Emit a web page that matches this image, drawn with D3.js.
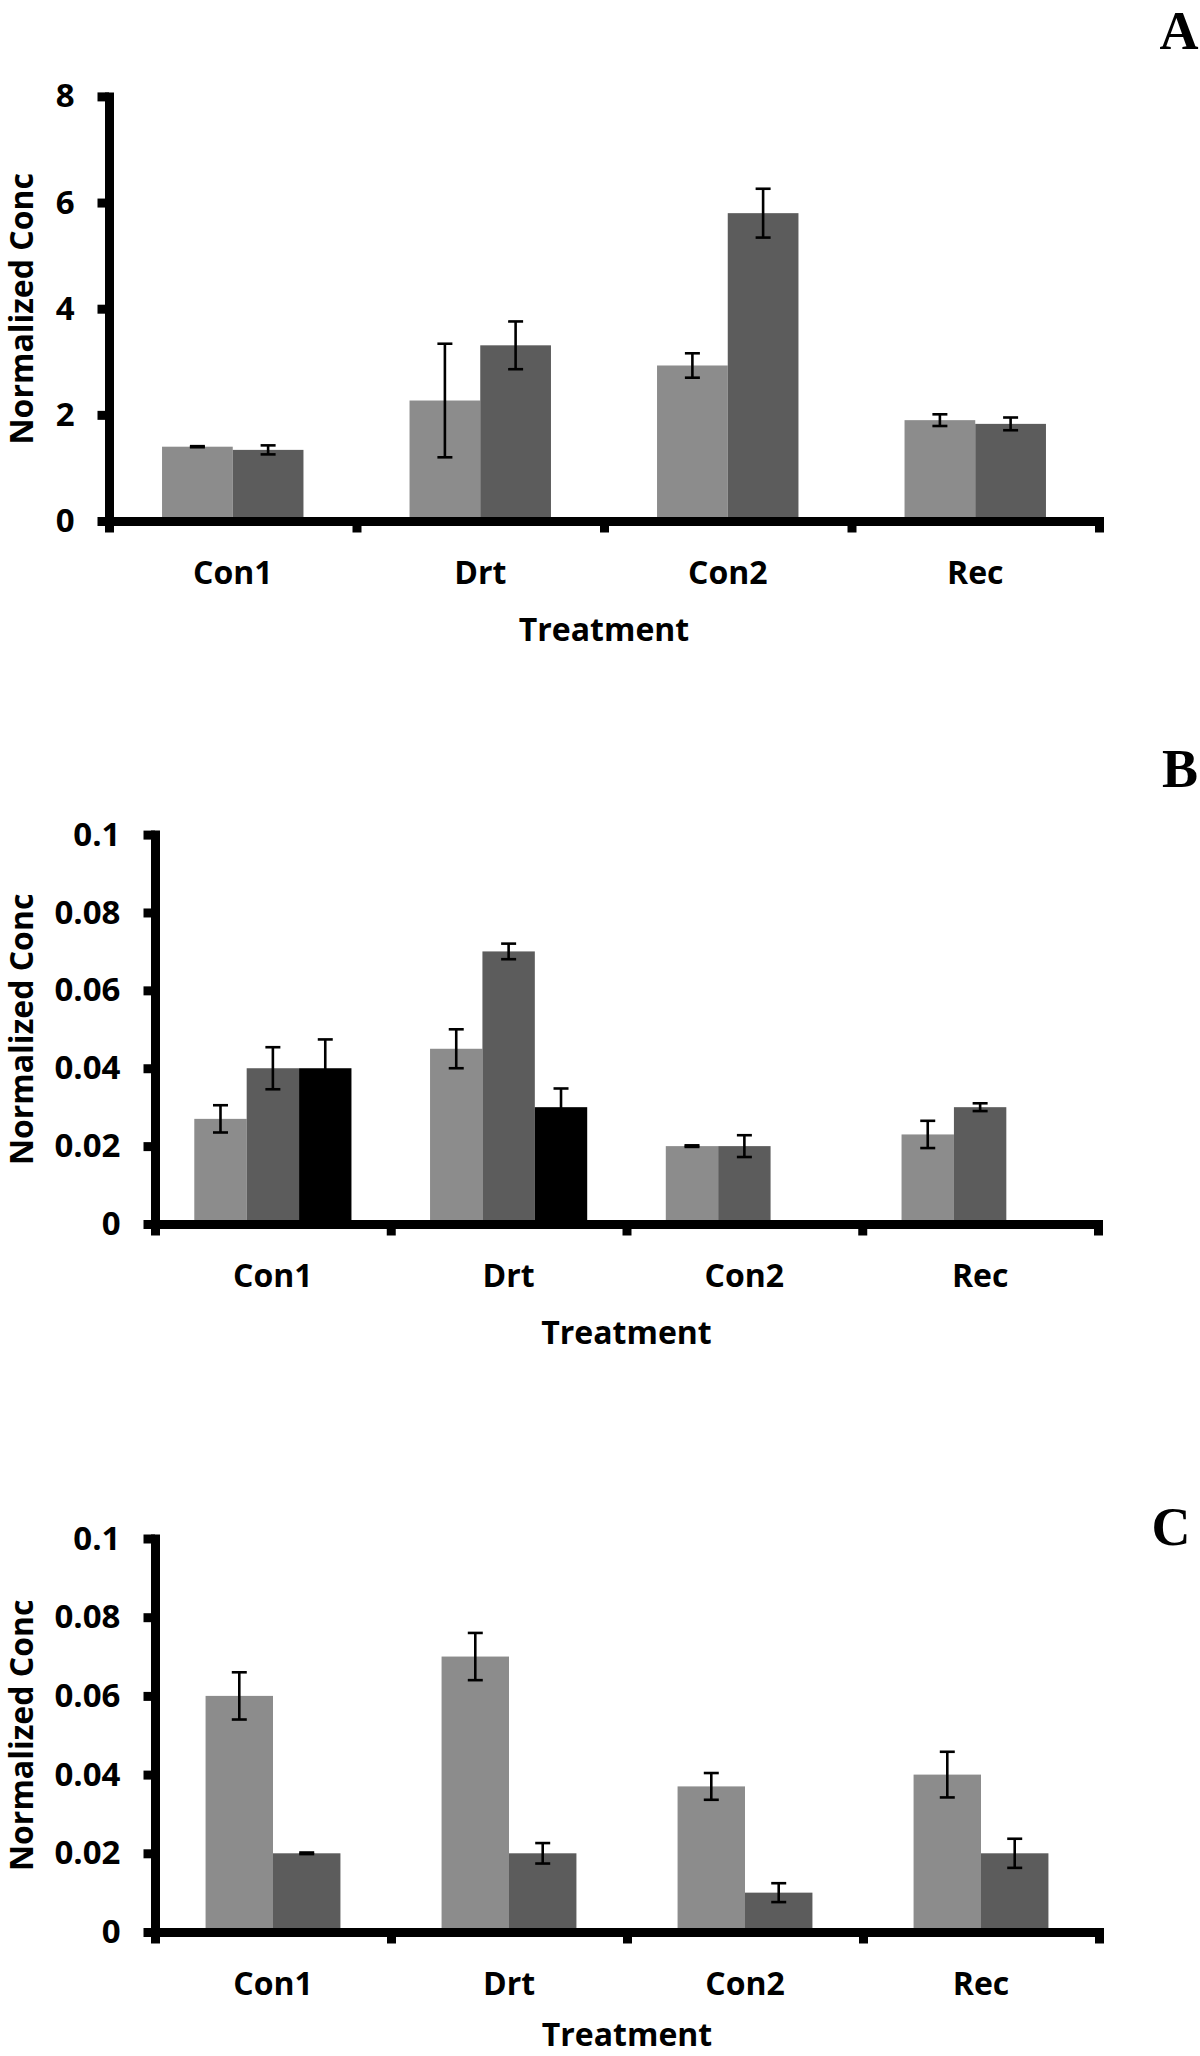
<!DOCTYPE html>
<html>
<head>
<meta charset="utf-8">
<script src="https://cdn.jsdelivr.net/npm/d3@7"></script>
<style>
  html, body { margin: 0; padding: 0; background: #fff; }
  svg { display: block; }
  .lbl { font-family: "Open Sans", "Noto Sans", sans-serif; font-weight: 700; fill: #000; }
  .letter { font-family: "Liberation Serif", "DejaVu Serif", serif; font-weight: 700; fill: #000; }
</style>
</head>
<body>
<svg id="chart" width="1200" height="2056"></svg>
<script>
// ---------- data ----------
const categories = ["Con1", "Drt", "Con2", "Rec"];
const seriesColors = ["#8c8c8c", "#5c5c5c", "#000000"];

const ticksA = [0, 2, 4, 6, 8];
const ticksBC = [0, 0.02, 0.04, 0.06, 0.08, 0.1];

const aLight = [1.40, 2.27, 2.93, 1.90];
const aLightErr = [0.01, 1.07, 0.23, 0.11];
const aDark = [1.34, 3.31, 5.80, 1.83];
const aDarkErr = [0.085, 0.45, 0.46, 0.12];

const bLight = [0.027, 0.045, 0.020, 0.023];
const bLightErr = [0.0035, 0.005, 0.0002, 0.0035];
const bDark = [0.040, 0.070, 0.020, 0.030];
const bDarkErr = [0.0054, 0.002, 0.0028, 0.001];
const bBlack = [0.040, 0.030, null, null];
const bBlackErr = [0.0074, 0.0048, null, null];

const cLight = [0.060, 0.070, 0.037, 0.040];
const cLightErr = [0.006, 0.006, 0.0034, 0.0058];
const cDark = [0.020, 0.020, 0.010, 0.020];
const cDarkErr = [0.0002, 0.0026, 0.0024, 0.0037];

const xTitle = "Treatment";
const yTitle = "Normalized Conc";

// ---------- panels ----------
const fmtBC = d => d === 0 ? "0" : String(+d.toFixed(2));
const panels = [
  { letter: "A", x0: 109, x1: 1099, yTop: 96.4, yBase: 521, ymax: 8, ticks: ticksA, fmt: d3.format("d"),
    series: [[aLight, aLightErr], [aDark, aDarkErr]], letterX: 1179, letterY: 49, titleDy: 120 },
  { letter: "B", x0: 155, x1: 1098, yTop: 834.6, yBase: 1224, ymax: 0.1, ticks: ticksBC, fmt: fmtBC,
    series: [[bLight, bLightErr], [bDark, bDarkErr], [bBlack, bBlackErr]], letterX: 1180, letterY: 787, titleDy: 120 },
  { letter: "C", x0: 155, x1: 1099, yTop: 1538.5, yBase: 1932, ymax: 0.1, ticks: ticksBC, fmt: fmtBC,
    series: [[cLight, cLightErr], [cDark, cDarkErr]], letterX: 1171, letterY: 1545, titleDy: 114 }
];

const svg = d3.select("#chart");
const AXW = 9;        // axis stroke
const TICK = 11.5;    // tick length from axis centre

panels.forEach(p => {
  const g = svg.append("g");
  const y = d3.scaleLinear().domain([0, p.ymax]).range([p.yBase, p.yTop]);
  const x = d3.scaleBand().domain(categories).range([p.x0, p.x1]).padding(0);
  const n = p.series.length;
  const barW = x.bandwidth() / (n + 1.5);
  const xs = d3.scaleBand().domain(d3.range(n)).range([-n * barW / 2, n * barW / 2]).padding(0);

  // bars
  p.series.forEach(([vals, errs], si) => {
    const sg = g.append("g");
    const data = categories.map((c, i) => ({ c, v: vals[i], e: errs[i] })).filter(d => d.v != null);
    sg.selectAll("rect").data(data).join("rect")
      .attr("x", d => x(d.c) + x.bandwidth() / 2 + xs(si))
      .attr("width", xs.bandwidth())
      .attr("y", d => y(d.v))
      .attr("height", d => y(0) - y(d.v))
      .attr("fill", seriesColors[si]);
    // error bars
    const eg = sg.selectAll("g.err").data(data).join("g").attr("class", "err")
      .attr("transform", d => `translate(${x(d.c) + x.bandwidth() / 2 + xs(si) + xs.bandwidth() / 2},0)`);
    eg.append("line").attr("y1", d => y(d.v + d.e)).attr("y2", d => y(d.v - d.e))
      .attr("stroke", "#000").attr("stroke-width", 2.6);
    eg.append("line").attr("x1", -7.5).attr("x2", 7.5).attr("y1", d => y(d.v + d.e)).attr("y2", d => y(d.v + d.e))
      .attr("stroke", "#000").attr("stroke-width", 2.6);
    eg.append("line").attr("x1", -7.5).attr("x2", 7.5).attr("y1", d => y(d.v - d.e)).attr("y2", d => y(d.v - d.e))
      .attr("stroke", "#000").attr("stroke-width", 2.6);
  });

  // x axis (boundary ticks)
  const xb = d3.scaleLinear().domain([0, categories.length]).range([p.x0, p.x1]);
  const xAxis = g.append("g").attr("transform", `translate(0,${p.yBase})`)
    .call(d3.axisBottom(xb).tickValues(d3.range(categories.length + 1)).tickSize(TICK).tickSizeOuter(0).tickFormat(""));
  xAxis.select(".domain").attr("stroke-width", AXW).attr("stroke-linecap", "square");
  xAxis.selectAll(".tick line").attr("stroke-width", AXW);

  // y axis
  const yAxis = g.append("g").attr("transform", `translate(${p.x0},0)`)
    .call(d3.axisLeft(y).tickValues(p.ticks).tickSize(TICK).tickSizeOuter(0).tickPadding(23).tickFormat(p.fmt));
  yAxis.select(".domain").attr("stroke-width", AXW).attr("stroke-linecap", "square");
  yAxis.selectAll(".tick line").attr("stroke-width", AXW);
  yAxis.selectAll(".tick text").attr("class", "lbl").attr("font-size", 33).attr("fill", "#000")
    .attr("font-family", "'Open Sans', 'Noto Sans', sans-serif").attr("font-weight", 700);

  // category labels
  g.selectAll("text.cat").data(categories).join("text")
    .attr("class", "lbl cat").attr("font-size", 32).attr("text-anchor", "middle")
    .attr("x", d => x(d) + x.bandwidth() / 2).attr("y", p.yBase + 62.5).text(d => d);

  // axis titles
  g.append("text").attr("class", "lbl").attr("font-size", 32).attr("text-anchor", "middle")
    .attr("x", (p.x0 + p.x1) / 2).attr("y", p.yBase + p.titleDy).text(xTitle);
  g.append("text").attr("class", "lbl").attr("font-size", 32).attr("text-anchor", "middle")
    .attr("transform", `translate(33,${(p.yTop + p.yBase) / 2}) rotate(-90)`).text(yTitle);

  // panel letter
  g.append("text").attr("class", "letter").attr("font-size", 54).attr("text-anchor", "middle")
    .attr("x", p.letterX).attr("y", p.letterY).text(p.letter);
});
</script>
</body>
</html>
